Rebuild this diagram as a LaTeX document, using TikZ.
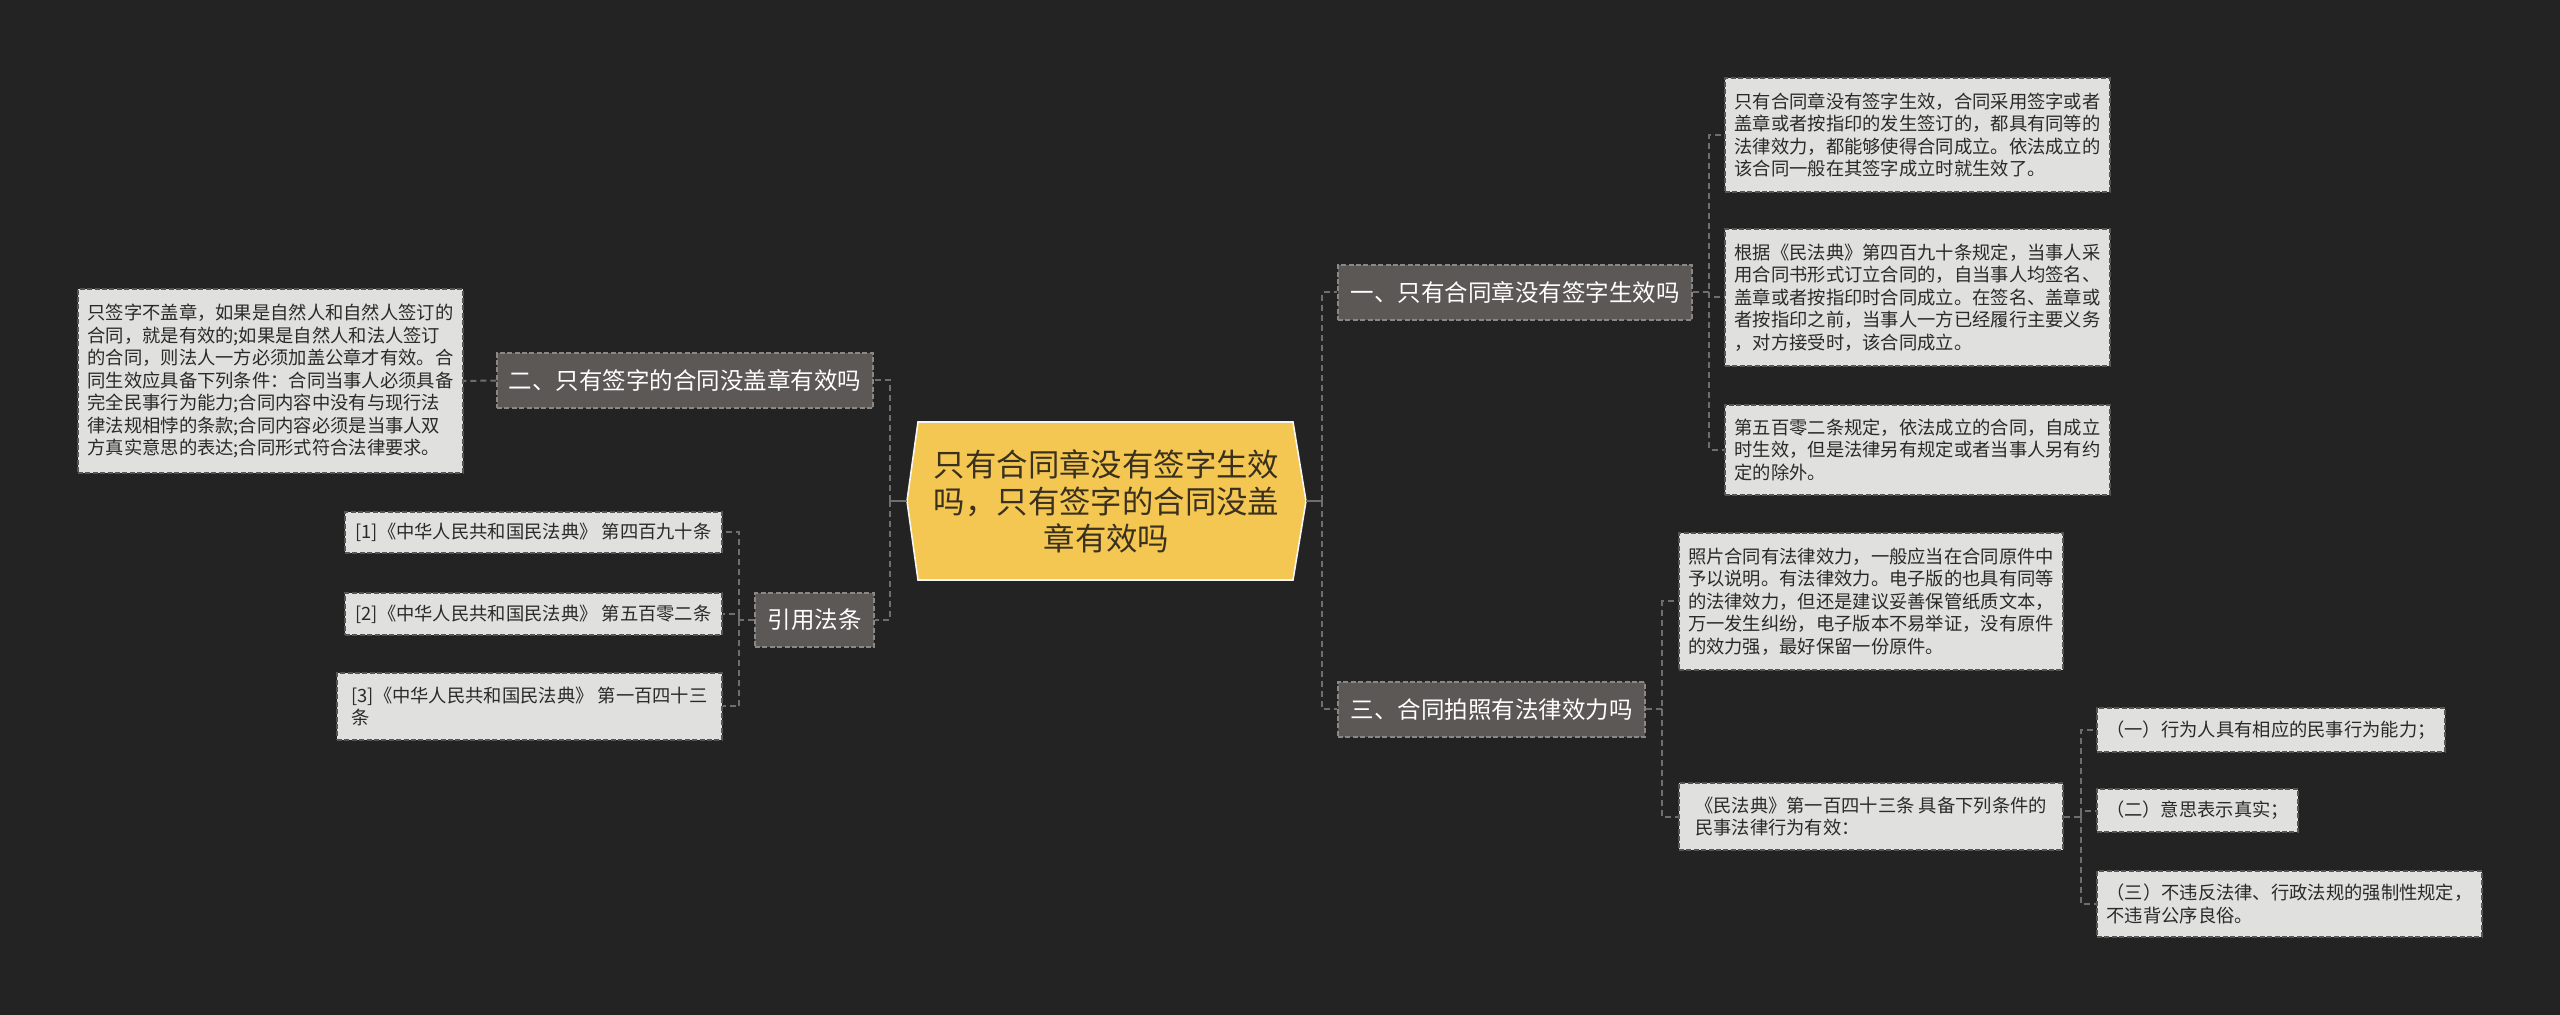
\documentclass[tikz,border=0pt]{standalone}
\usepackage{fontspec}
\setmainfont{Noto Sans CJK SC}
\definecolor{canvas}{HTML}{232323}
\definecolor{rootfill}{HTML}{F4C752}
\definecolor{roottext}{HTML}{3A3020}
\definecolor{branchfill}{HTML}{5B5855}
\definecolor{branchedge}{HTML}{8A8784}
\definecolor{leaffill}{HTML}{E0E0DE}
\definecolor{leafedge}{HTML}{555555}
\definecolor{leaftext}{HTML}{2A2A2A}
\definecolor{linkgray}{HTML}{6E6E6E}
\tikzset{
  link/.style={draw=linkgray, line width=1pt, dash pattern=on 3pt off 2pt},
  branch/.style={fill=branchfill, draw=branchedge, line width=0.7pt, dash pattern=on 2.5pt off 1.2pt,
    text=white, inner sep=0pt, font=\fontsize{11.75}{14}\selectfont},
  leaf/.style={fill=leaffill, draw=leafedge, line width=0.7pt, dash pattern=on 2.5pt off 1.2pt,
    text=leaftext, inner sep=0pt, align=left, font=\fontsize{9.15}{11.25}\selectfont},
  hub/.style={text=roottext, inner sep=0pt, align=center, font=\fontsize{15.7}{18.5}\selectfont},
}
\begin{document}
\begin{tikzpicture}[x=0.5pt, y=-0.5pt]
  \fill[canvas] (0,0) rectangle (2560,1015);

  % centre
  \draw[fill=rootfill, draw=white!92!gray, line width=0.8pt] (907,501) -- (918,422) -- (1293,422) -- (1306,501) -- (1293,580) -- (918,580) -- cycle;
  \node[hub, minimum width=199.5pt, minimum height=79pt] (root) at (1106.5,501) {只有合同章没有签字生效\\吗，只有签字的合同没盖\\章有效吗};

  % branches
  \node[branch, minimum width=177pt, minimum height=27.5pt] (b1) at (1515,292.5) {一、只有合同章没有签字生效吗};
  \node[branch, minimum width=188pt, minimum height=27.5pt] (b2) at (685,380.5) {二、只有签字的合同没盖章有效吗};
  \node[branch, minimum width=153.5pt, minimum height=27.5pt] (b3) at (1491.5,709.5) {三、合同拍照有法律效力吗};
  \node[branch, minimum width=59.5pt, minimum height=27pt] (b4) at (814.5,620) {引用法条};

  % leaves
  \node[leaf, minimum width=192.5pt, minimum height=57pt] (l11) at (1917.5,135) {只有合同章没有签字生效，合同采用签字或者\\盖章或者按指印的发生签订的，都具有同等的\\法律效力，都能够使得合同成立。依法成立的\\该合同一般在其签字成立时就生效了。};
  \node[leaf, minimum width=192.5pt, minimum height=68.5pt] (l12) at (1917.5,297.5) {根据《民法典》第四百九十条规定，当事人采\\用合同书形式订立合同的，自当事人均签名、\\盖章或者按指印时合同成立。在签名、盖章或\\者按指印之前，当事人一方已经履行主要义务\\，对方接受时，该合同成立。};
  \node[leaf, minimum width=192.5pt, minimum height=45pt] (l13) at (1917.5,450) {第五百零二条规定，依法成立的合同，自成立\\时生效，但是法律另有规定或者当事人另有约\\定的除外。};
  \node[leaf, minimum width=192.5pt, minimum height=92pt] (l21) at (270.5,381) {只签字不盖章，如果是自然人和自然人签订的\\合同，就是有效的;如果是自然人和法人签订\\的合同，则法人一方必须加盖公章才有效。合\\同生效应具备下列条件：合同当事人必须具备\\完全民事行为能力;合同内容中没有与现行法\\律法规相悖的条款;合同内容必须是当事人双\\方真实意思的表达;合同形式符合法律要求。};
  \node[leaf, minimum width=192pt, minimum height=68.5pt] (l31) at (1871,601.5) {照片合同有法律效力，一般应当在合同原件中\\予以说明。有法律效力。电子版的也具有同等\\的法律效力，但还是建议妥善保管纸质文本，\\万一发生纠纷，电子版本不易举证，没有原件\\的效力强，最好保留一份原件。};
  \node[leaf, minimum width=192pt, minimum height=33.5pt] (l32) at (1871,816.5) {《民法典》第一百四十三条 具备下列条件的\\民事法律行为有效：};
  \node[leaf, minimum width=174pt, minimum height=22pt] (l321) at (2271,730) {（一）行为人具有相应的民事行为能力；};
  \node[leaf, minimum width=100.5pt, minimum height=21.5pt] (l322) at (2197.5,810.5) {（二）意思表示真实；};
  \node[leaf, minimum width=192.5pt, minimum height=33pt] (l323) at (2289.5,904) {（三）不违反法律、行政法规的强制性规定，\\不违背公序良俗。};
  \node[leaf, minimum width=188.5pt, minimum height=20.5pt] (r1) at (533.5,532.5) {[1]《中华人民共和国民法典》 第四百九十条};
  \node[leaf, minimum width=188.5pt, minimum height=21pt] (r2) at (533.5,614) {[2]《中华人民共和国民法典》 第五百零二条};
  \node[leaf, minimum width=192.5pt, minimum height=33.5pt] (r3) at (529.5,706.5) {[3]《中华人民共和国民法典》 第一百四十三\\条};

  % connectors
  \coordinate (lt) at (890,501);
  \coordinate (rt) at (1322,501);
  \coordinate (t1) at (1709,292.5);
  \coordinate (t3) at (1662,709.5);
  \coordinate (t4) at (739,620);
  \coordinate (t32) at (2081,816.5);

  \draw[link, solid] (root.west) -- (lt);
  \draw[link] (lt) |- (b2.east);
  \draw[link] (lt) |- (b4.east);
  \draw[link, solid] (root.east) -- (rt);
  \draw[link] (rt) |- (b1.west);
  \draw[link] (rt) |- (b3.west);
  \draw[link] (b1.east) -- (t1) |- (l11.west);
  \draw[link] (t1) |- (l12.west);
  \draw[link] (t1) |- (l13.west);
  \draw[link] (b2.west) -- (l21.east);
  \draw[link] (b4.west) -- (t4) |- (r1.east);
  \draw[link] (t4) |- (r2.east);
  \draw[link] (t4) |- (r3.east);
  \draw[link] (b3.east) -- (t3) |- (l31.west);
  \draw[link] (t3) |- (l32.west);
  \draw[link] (l32.east) -- (t32) |- (l321.west);
  \draw[link] (t32) |- (l322.west);
  \draw[link] (t32) |- (l323.west);
\end{tikzpicture}
\end{document}
